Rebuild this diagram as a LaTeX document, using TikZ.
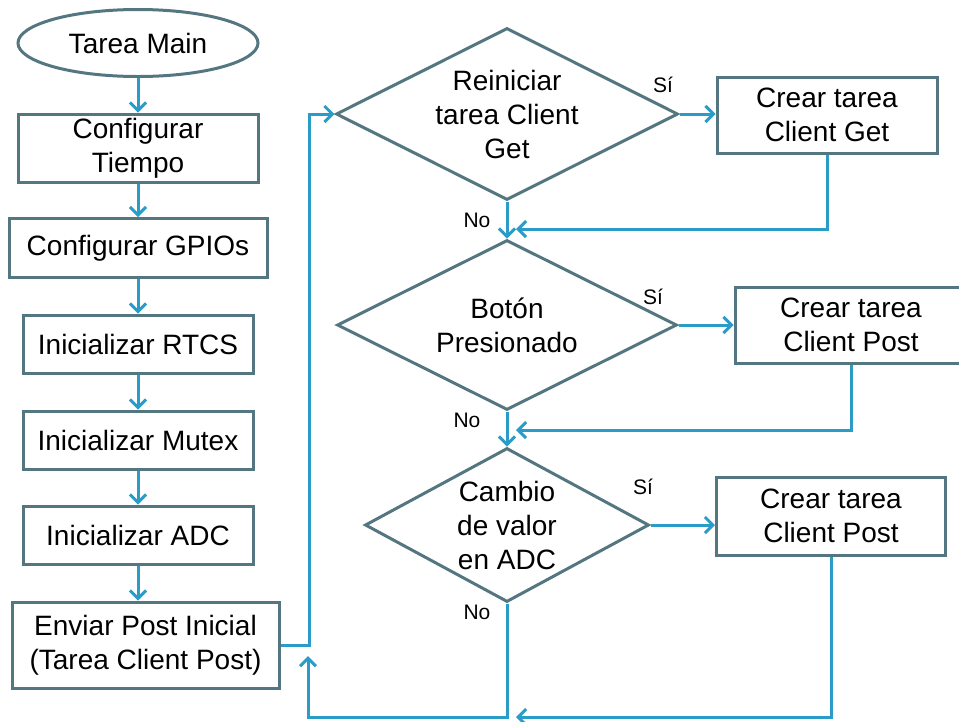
\documentclass[tikz,border=0pt]{standalone}
\usepackage{fontspec}
\setmainfont{Liberation Sans}
\usetikzlibrary{arrows.meta,shapes.geometric}
\definecolor{boxgray}{RGB}{84,118,128}
\definecolor{flowblue}{RGB}{43,155,199}

\begin{document}
\begin{tikzpicture}[x=1pt,y=-1pt,
		every node/.style={font=\fontsize{28}{34}\selectfont, align=center},
		startnode/.style={draw=boxgray, line width=3pt, ellipse, inner sep=0pt},
		procbox/.style={draw=boxgray, line width=3pt, rectangle, inner sep=0pt},
		decision/.style={draw=boxgray, line width=3pt, diamond, inner sep=0pt},
		answer/.style={font=\fontsize{21}{24}\selectfont},
		flow/.style={draw=flowblue, line width=3pt, -{Straight Barb[length=8pt,width=16pt]}}]
		\useasboundingbox (0,0) rectangle (959,721);
		
		% Set the start and the setup steps
		\node[startnode, minimum width=240pt, minimum height=67pt] (main) at (138,43) {Tarea Main};
		\node[procbox, minimum width=240pt, minimum height=68pt] (tiempo) at (138,148) {Configurar\\Tiempo};
		\node[procbox, minimum width=258pt, minimum height=59pt] (gpio) at (138,248) {Configurar GPIOs};
		\node[procbox, minimum width=230pt, minimum height=58pt] (rtcs) at (138,344) {Inicializar RTCS};
		\node[procbox, minimum width=230pt, minimum height=58pt] (mutex) at (138,440) {Inicializar Mutex};
		\node[procbox, minimum width=230pt, minimum height=58pt] (adc) at (138,535) {Inicializar ADC};
		\node[procbox, minimum width=267pt, minimum height=86pt] (post) at (145.5,645) {Enviar Post Inicial\\(Tarea Client Post)};
		
		% Set the decisions of the loop
		\node[decision, aspect=2, minimum width=342pt, minimum height=172pt] (reinicio) at (507,114) {Reiniciar\\tarea Client\\Get};
		\node[decision, aspect=2, minimum width=340pt, minimum height=170pt] (boton) at (507,325) {Botón\\Presionado};
		\node[decision, aspect=1.8, minimum width=284pt, minimum height=154pt] (cambio) at (507,525) {Cambio\\de valor\\en ADC};
		
		% Set the tasks that are created
		\node[procbox, minimum width=220pt, minimum height=76pt] (crearget) at (827,115) {Crear tarea\\Client Get};
		\node[procbox, minimum width=232pt, minimum height=76pt] (crearpost) at (851,325) {Crear tarea\\Client Post};
		\node[procbox, minimum width=229pt, minimum height=78pt] (crearadc) at (831,516) {Crear tarea\\Client Post};
		
		% Set the answers
		\node[answer] (si1) at (663,85) {Sí};
		\node[answer] (si2) at (653,297) {Sí};
		\node[answer] (si3) at (643,487) {Sí};
		\node[answer] (no1) at (477,220) {No};
		\node[answer] (no2) at (467,420) {No};
		\node[answer] (no3) at (477,612) {No};
		
		% Set the points where lines meet
		\coordinate (m1) at (516,229);
		\coordinate (m2) at (516,430);
		\coordinate (m3) at (516,717);
		\coordinate (back) at (308,717);
		\coordinate (backend) at (308,656);
		
		% Connect the setup steps
		\foreach \a/\b in {main/tiempo,tiempo/gpio,gpio/rtcs,rtcs/mutex,mutex/adc,adc/post}
		\draw[flow] (\a.south) -- (\a.south |- \b.north);
		\draw[flow] (post.east) -- ++(29,0) |- (reinicio.west);
		
		% Connect the loop
		\draw[flow] (reinicio.east) -- (reinicio.east -| crearget.west);
		\draw[flow] (crearget.south) |- (m1);
		\draw[flow] (reinicio.south) -- (boton.north);
		\draw[flow] (boton.east) -- (boton.east -| crearpost.west);
		\draw[flow] (crearpost.south) |- (m2);
		\draw[flow] (boton.south) -- (cambio.north);
		\draw[flow] (cambio.east) -- (cambio.east -| crearadc.west);
		\draw[flow] (crearadc.south) |- (m3);
		\draw[flow] (cambio.south) |- (back) -- (backend);
		
	\end{tikzpicture}
\end{document}
